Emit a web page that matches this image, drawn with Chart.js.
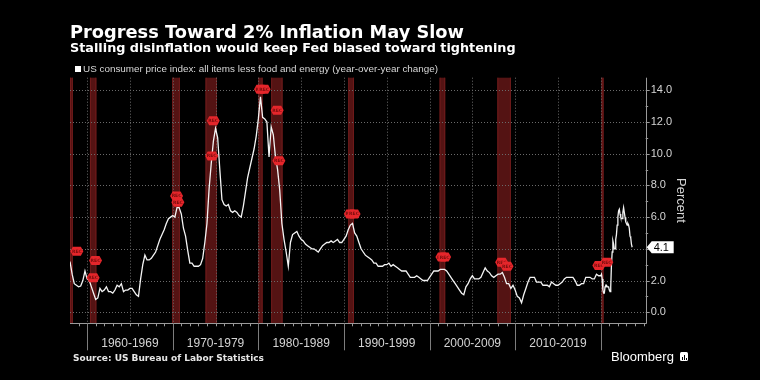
<!DOCTYPE html>
<html>
<head>
<meta charset="utf-8">
<script src="https://cdn.jsdelivr.net/npm/chart.js@4.4.0/dist/chart.umd.min.js"></script>
<style>
  html, body { margin: 0; padding: 0; background: #000; }
  #wrap { position: relative; width: 760px; height: 380px; background: #000; overflow: hidden; }
  #chart { position: absolute; left: 0; top: 0; }
  .txt { position: absolute; white-space: nowrap; line-height: 1; }
  #title { left: 70px; top: 20.9px; color: #fff; font: bold 17.8px "DejaVu Sans", sans-serif; }
  #subtitle { left: 70px; top: 39.9px; color: #fff; font: bold 12.8px "DejaVu Sans", sans-serif; }
  #legend { left: 75px; top: 62.8px; color: #d8d8d8; font: 9.9px "Liberation Sans", sans-serif; }
  #legend span.box { display: inline-block; width: 6px; height: 6px; background: #fff; margin-right: 2px; vertical-align: 0px; }
  #source { left: 73px; top: 353px; color: #e6e6e6; font: bold 9px "DejaVu Sans", sans-serif; }
  #brand { left: 611px; top: 349px; color: #fff; font: 13px "Liberation Sans", sans-serif; }
  #logo { position: absolute; left: 680px; top: 352px; width: 8px; height: 9px; background: #fff; border-radius: 1.5px; }
  #logo i { position: absolute; bottom: 1.5px; width: 1px; background: #000; }
</style>
</head>
<body>
<div id="wrap">
  <canvas id="chart" width="760" height="380"></canvas>
  <div class="txt" id="title">Progress Toward 2% Inflation May Slow</div>
  <div class="txt" id="subtitle">Stalling disinflation would keep Fed biased toward tightening</div>
  <div class="txt" id="legend"><span class="box"></span>US consumer price index: all items less food and energy (year-over-year change)</div>
  <div class="txt" id="source">Source: US Bureau of Labor Statistics</div>
  <div class="txt" id="brand">Bloomberg</div>
  <div id="logo"><i style="left:2px;height:3px"></i><i style="left:4px;height:5px"></i><i style="left:6px;height:2px"></i></div>
</div>
<script>
// Core CPI, year-over-year %, quarterly (Jan, Apr, Jul, Oct)
const cpi1950s = [3.2, 2.4, 1.8, 1.7, 1.6, 1.65, 2.0, 2.6]; // from 1958
const cpi1960s = [
  2.1, 2.0, 1.6, 1.2,  0.8, 0.9, 1.5, 1.3,  1.4, 1.6, 1.3, 1.3,  1.2, 1.4, 1.7, 1.6,
  1.8, 1.3, 1.4, 1.4,  1.5, 1.5, 1.3, 1.1,  1.0, 2.1, 3.0, 3.6,  3.3, 3.3, 3.4, 3.6,
  3.8, 4.2, 4.6, 4.9,  5.2, 5.6, 5.9, 6.0
];
const cpi1970s = [
  6.1, 6.0, 6.6, 6.6,  6.2, 5.3, 4.8, 3.9,  3.1, 3.1, 2.9, 2.9,  2.9, 3.0, 3.4, 4.4,
  5.6, 7.8, 9.4, 10.8,  11.6, 11.0, 9.0, 7.1,  6.8, 6.7, 6.8, 6.4,  6.3, 6.4, 6.3, 6.1,
  6.0, 6.7, 7.6, 8.5,  9.1, 9.7, 10.3, 11.1
];
const cpi1980s = [
  12.2, 13.6, 12.3, 12.2,  12.0, 9.8, 11.7, 11.2,  9.8, 9.0, 7.7, 5.6,  4.6, 3.8, 2.9, 4.4,
  4.9, 5.0, 5.1, 4.8,  4.6, 4.5, 4.3, 4.2,  4.1, 4.0, 4.0, 3.9,  3.8, 4.0, 4.2, 4.3,
  4.4, 4.4, 4.5, 4.4,  4.5, 4.6, 4.4, 4.4
];
const cpi1990s = [
  4.6, 4.8, 5.2, 5.5,  5.6, 5.0, 4.8, 4.4,  4.0, 3.8, 3.6, 3.5,  3.4, 3.3, 3.1, 3.1,
  2.9, 2.9, 2.9, 3.0,  3.0, 3.1, 2.9, 3.0,  2.9, 2.8, 2.7, 2.6,  2.6, 2.6, 2.4, 2.2,
  2.2, 2.2, 2.3, 2.2,  2.1, 2.0, 2.0, 2.0
];
const cpi2000s = [
  2.2, 2.4, 2.6, 2.6,  2.6, 2.7, 2.7, 2.7,  2.6, 2.4, 2.2, 2.0,  1.8, 1.6, 1.4, 1.2,
  1.1, 1.6, 1.8, 2.1,  2.3, 2.1, 2.1, 2.1,  2.2, 2.5, 2.8, 2.6,  2.5, 2.3, 2.2, 2.3,
  2.4, 2.4, 2.5, 2.2,  1.8, 1.8, 1.5, 1.7
];
const cpi2010s = [
  1.4, 1.0, 0.9, 0.6,  1.1, 1.5, 1.9, 2.2,  2.2, 2.2, 1.9, 1.9,  1.9, 1.7, 1.7, 1.7,
  1.6, 1.9, 1.8, 1.7,  1.7, 1.8, 1.9, 2.1,  2.2, 2.2, 2.2, 2.2,  2.0, 1.7, 1.7, 1.8,
  1.8, 2.2, 2.2, 2.2,  2.1, 2.1, 2.4, 2.3
];
// monthly from Jan 2020
const cpi2020s = [
  2.3, 2.4, 2.1, 1.4, 1.2, 1.2, 1.6, 1.7, 1.7, 1.6, 1.6, 1.6,
  1.4, 1.3, 1.6, 3.0, 3.8, 4.5, 4.3, 4.0, 4.0, 4.6, 4.9, 5.5,
  6.0, 6.4, 6.5, 6.2, 6.0, 5.9, 5.9, 6.3, 6.6, 6.3, 6.0, 5.7,
  5.6, 5.5, 5.6, 5.5, 5.3, 4.8, 4.7, 4.3, 4.1
];

// NBER recessions (decimal years)
const recessionStarts = [1957.67, 1960.33, 1969.92, 1973.83, 1980.0, 1981.5, 1990.5, 2001.17, 2007.92, 2020.08];
const recessionEnds   = [1958.33, 1961.08, 1970.83, 1975.17, 1980.5, 1982.83, 1991.17, 2001.83, 2009.5, 2020.33];

// "REC" event flags
const recFlagYears  = [1958.8, 1960.98, 1960.7, 1970.45, 1970.6, 1974.73, 1974.55, 1980.25, 1980.68,
                       1982.2, 1982.4, 1990.75, 1991.18, 2001.45, 2001.76, 2008.42, 2009.05, 2019.78, 2020.7];
const recFlagValues = [3.85, 3.26, 2.17, 7.34, 6.94, 12.08, 9.86, 14.07, 14.07,
                       12.75, 9.56, 6.2, 6.2, 3.48, 3.48, 3.15, 2.9, 2.94, 3.15];

// x axis: decade bands
const decadeStarts = [1960, 1970, 1980, 1990, 2000, 2010];
const decadeLabels = ["1960-1969", "1970-1979", "1980-1989", "1990-1999", "2000-2009", "2010-2019"];

// build {x, y} points
const points = [];
function addSeries(values, startYear, perYear) {
  values.forEach((v, i) => points.push({ x: startYear + i / perYear, y: v }));
}
addSeries(cpi1950s, 1958, 4);
addSeries(cpi1960s, 1960, 4);
addSeries(cpi1970s, 1970, 4);
addSeries(cpi1980s, 1980, 4);
addSeries(cpi1990s, 1990, 4);
addSeries(cpi2000s, 2000, 4);
addSeries(cpi2010s, 2010, 4);
addSeries(cpi2020s, 2020, 12);

const lastValue = cpi2020s[cpi2020s.length - 1];

function hline(ctx, x1, x2, y) {
  ctx.beginPath(); ctx.moveTo(x1, y); ctx.lineTo(x2, y); ctx.stroke();
}
function vline(ctx, x, y1, y2) {
  ctx.beginPath(); ctx.moveTo(x, y1); ctx.lineTo(x, y2); ctx.stroke();
}

// bands, grid, axes and ticks
const backdrop = {
  id: "backdrop",
  beforeDatasetsDraw(chart) {
    const { ctx, chartArea: a, scales: { x, y } } = chart;
    ctx.save();
    // recession shading
    recessionStarts.forEach((s, i) => {
      const x1 = Math.max(a.left, x.getPixelForValue(s));
      const x2 = x.getPixelForValue(recessionEnds[i]);
      ctx.fillStyle = "#541313";
      ctx.fillRect(x1, a.top, x2 - x1, a.bottom - a.top);
      ctx.fillStyle = "#701b1b";
      ctx.fillRect(x1, a.top, 1, a.bottom - a.top);
      ctx.fillRect(x2 - 1, a.top, 1, a.bottom - a.top);
    });
    // dotted grid
    ctx.strokeStyle = "#6a6a6a";
    ctx.lineWidth = 1;
    ctx.setLineDash([1, 2]);
    for (let v = 0; v <= 14; v += 2) {
      hline(ctx, a.left, a.right, Math.round(y.getPixelForValue(v)) + 0.5);
    }
    for (let yr = 1960; yr <= 2020; yr += 5) {
      vline(ctx, Math.round(x.getPixelForValue(yr)) + 0.5, a.top, a.bottom);
    }
    ctx.setLineDash([]);
    // axes
    ctx.strokeStyle = "#9a9a9a";
    vline(ctx, Math.round(a.right) + 0.5, a.top, a.bottom + 0.5);
    hline(ctx, a.left, a.right + 0.5, Math.round(a.bottom) + 0.5);
    // y ticks
    for (let v = 0; v <= 14; v += 1) {
      const py = Math.round(y.getPixelForValue(v)) + 0.5;
      hline(ctx, a.right, a.right + (v % 2 === 0 ? 4 : 2.5), py);
    }
    // x yearly ticks
    for (let yr = 1959; yr <= 2025; yr++) {
      const px = Math.round(x.getPixelForValue(yr)) + 0.5;
      vline(ctx, px, a.bottom, a.bottom + 3);
    }
    // decade separators
    ctx.strokeStyle = "#7d7d7d";
    decadeStarts.concat([2020]).forEach((d) => {
      const px = Math.round(x.getPixelForValue(d)) + 0.5;
      vline(ctx, px, a.bottom, a.bottom + 27);
    });
    ctx.restore();
  },
  afterDatasetsDraw(chart) {
    const { ctx, scales: { x, y }, chartArea: a } = chart;
    ctx.save();
    // REC flags
    recFlagYears.forEach((yr, i) => {
      const cx = x.getPixelForValue(yr);
      const cy = y.getPixelForValue(recFlagValues[i]);
      const hw = 6.5, hh = 4.5, tip = 2.5;
      ctx.fillStyle = "#e5262b";
      ctx.beginPath();
      ctx.moveTo(cx - hw, cy);
      ctx.lineTo(cx - hw + tip, cy - hh);
      ctx.lineTo(cx + hw - tip, cy - hh);
      ctx.lineTo(cx + hw, cy);
      ctx.lineTo(cx + hw - tip, cy + hh);
      ctx.lineTo(cx - hw + tip, cy + hh);
      ctx.closePath();
      ctx.fill();
      ctx.fillStyle = "#7a0d0d";
      ctx.font = "bold 4.5px 'DejaVu Sans'";
      ctx.textAlign = "center";
      ctx.textBaseline = "middle";
      ctx.fillText("REC", cx, cy + 0.3);
    });
    // last value tag
    const ly = y.getPixelForValue(lastValue);
    const lx = a.right + 1;
    ctx.fillStyle = "#fff";
    ctx.beginPath();
    ctx.moveTo(lx, ly);
    ctx.lineTo(lx + 5, ly - 6);
    ctx.lineTo(lx + 27, ly - 6);
    ctx.lineTo(lx + 27, ly + 6);
    ctx.lineTo(lx + 5, ly + 6);
    ctx.closePath();
    ctx.fill();
    ctx.fillStyle = "#000";
    ctx.font = "11px 'Liberation Sans'";
    ctx.textAlign = "left";
    ctx.textBaseline = "middle";
    ctx.fillText(lastValue.toFixed(1), lx + 7, ly + 0.5);
    ctx.restore();
  }
};

const ctx = document.getElementById("chart").getContext("2d");
new Chart(ctx, {
  type: "line",
  data: {
    datasets: [{
      label: "US consumer price index: all items less food and energy (year-over-year change)",
      data: points,
      borderColor: "#f4f4f4",
      borderWidth: 1.3,
      pointRadius: 0,
      tension: 0,
      fill: false,
    }],
  },
  options: {
    responsive: false,
    animation: false,
    layout: { padding: { left: 70, top: 77.7, right: 70, bottom: 0 } },
    plugins: {
      legend: { display: false },
      tooltip: { enabled: false },
    },
    scales: {
      x: {
        type: "linear",
        min: 1958,
        max: 2025.25,
        grid: { display: false, drawTicks: false },
        border: { display: false },
        afterBuildTicks: (s) => { s.ticks = decadeStarts.map((d) => ({ value: d + 5 })); },
        ticks: {
          autoSkip: false,
          maxRotation: 0,
          padding: 12.8,
          color: "#d4d4d4",
          font: { family: "Liberation Sans", size: 12 },
          callback: (v, i) => decadeLabels[i],
        },
        afterFit: (s) => { s.height = 56.7; },
      },
      y: {
        position: "right",
        min: -0.7,
        max: 14.8,
        grid: { display: false, drawTicks: false },
        border: { display: false },
        ticks: {
          stepSize: 2,
          includeBounds: false,
          padding: 5,
          color: "#d4d4d4",
          font: { family: "Liberation Sans", size: 11 },
          callback: (v) => v.toFixed(1),
        },
        title: {
          display: true,
          text: "Percent",
          color: "#d4d4d4",
          font: { family: "Liberation Sans", size: 13 },
          padding: { top: 1.2, bottom: 0 },
        },
        afterFit: (s) => { s.width = 44.3; },
      },
    },
  },
  plugins: [backdrop],
});
</script>
</body>
</html>
